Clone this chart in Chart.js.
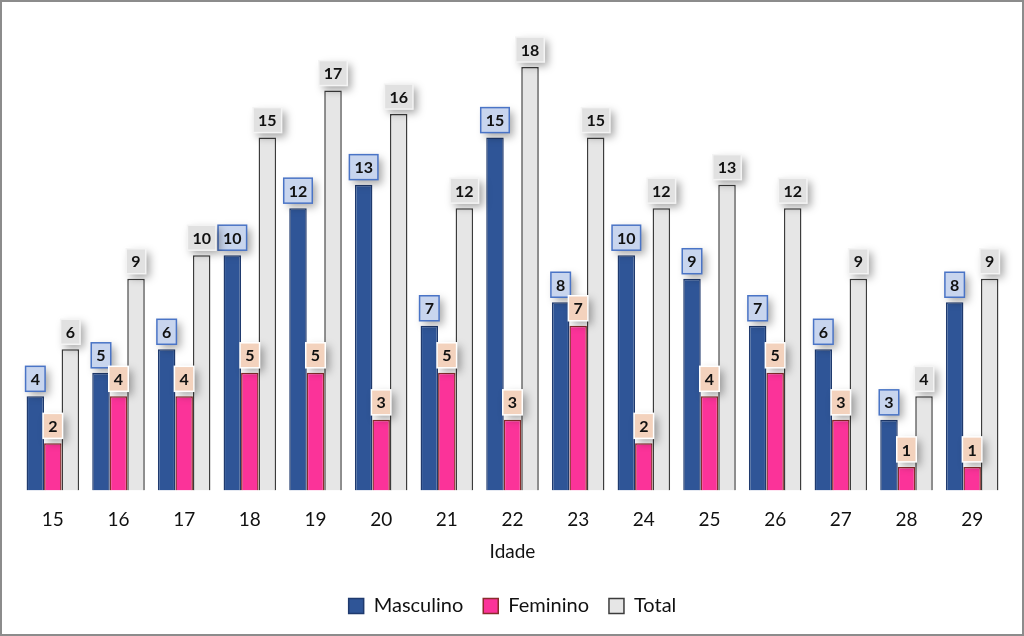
<!DOCTYPE html>
<html>
<head>
<meta charset="utf-8">
<script src="https://cdn.jsdelivr.net/npm/chart.js@4.4.1/dist/chart.umd.min.js"></script>
<style>
  html, body { margin: 0; padding: 0; background: #fff; }
  #wrap { width: 1024px; height: 636px; box-sizing: border-box; border: 2px solid #8c8c8c; position: relative; }
  canvas { display: block; }
</style>
</head>
<body>
<div id="wrap"><canvas id="chart" width="1020" height="632"></canvas></div>
<script>
const idades = ['15','16','17','18','19','20','21','22','23','24','25','26','27','28','29'];
const masculino = [4, 5, 6, 10, 12, 13, 7, 15, 8, 10, 9, 7, 6, 3, 8];
const feminino = [2, 4, 4, 5, 5, 3, 5, 3, 7, 2, 4, 5, 3, 1, 1];
const total = [6, 9, 10, 15, 17, 16, 12, 18, 15, 12, 13, 12, 9, 4, 9];

const fonte = 'Lato, "Liberation Sans", sans-serif';

// caixas das etiquetas acima das barras
const estilosEtiqueta = [
  { fill: '#c8d5ee', stroke: '#4a74c6' },
  { fill: '#f3d2bd', stroke: '#ffffff' },
  { fill: '#e1e1e1', stroke: '#f4f4f4' }
];

const etiquetas = {
  id: 'etiquetas',
  afterDatasetsDraw(chart) {
    const ctx = chart.ctx;
    chart.data.datasets.forEach((ds, i) => {
      const meta = chart.getDatasetMeta(i);
      if (meta.hidden) return;
      const st = estilosEtiqueta[i];
      meta.data.forEach((bar, j) => {
        const txt = String(ds.data[j]);
        ctx.save();
        ctx.font = 'bold 16px ' + fonte;
        const w = Math.max(bar.width + 2, ctx.measureText(txt).width + 10);
        const h = 25;
        const x = bar.x - w / 2;
        const y = bar.y - 5 - h;
        ctx.shadowColor = 'rgba(0,0,0,0.35)';
        ctx.shadowBlur = 8;
        ctx.shadowOffsetX = 4;
        ctx.shadowOffsetY = 4;
        ctx.fillStyle = st.fill;
        ctx.fillRect(x, y, w, h);
        ctx.shadowColor = 'transparent';
        ctx.lineWidth = 1.5;
        ctx.strokeStyle = st.stroke;
        ctx.strokeRect(x, y, w, h);
        ctx.fillStyle = '#111';
        ctx.textAlign = 'center';
        ctx.textBaseline = 'middle';
        ctx.fillText(txt, bar.x, y + h / 2 + 1);
        ctx.restore();
      });
    });
  }
};

new Chart(document.getElementById('chart'), {
  type: 'bar',
  data: {
    labels: idades,
    datasets: [
      { label: 'Masculino', data: masculino, backgroundColor: '#2f5597', borderColor: '#1f3a6e', borderWidth: 1.5 },
      { label: 'Feminino', data: feminino, backgroundColor: '#fb3399', borderColor: '#8a2c2c', borderWidth: 1.5 },
      { label: 'Total', data: total, backgroundColor: '#e6e6e6', borderColor: '#3c3c3c', borderWidth: 1.5 }
    ]
  },
  options: {
    responsive: false,
    animation: false,
    layout: { padding: { left: 18, right: 17, top: 18, bottom: 8 } },
    datasets: { bar: { categoryPercentage: 0.8, barPercentage: 1.0 } },
    scales: {
      y: { display: false, min: 0, max: 20 },
      x: {
        grid: { display: false },
        border: { display: false },
        ticks: { color: '#111', font: { family: fonte, size: 19 }, padding: 10 },
        title: { display: true, text: 'Idade', color: '#111', font: { family: fonte, size: 19 }, padding: { top: -1, bottom: 13 } }
      }
    },
    plugins: {
      legend: {
        position: 'bottom',
        labels: {
          color: '#111',
          font: { family: fonte, size: 20 },
          boxWidth: 15,
          boxHeight: 15,
          padding: 20
        }
      },
      tooltip: { enabled: false }
    }
  },
  plugins: [etiquetas]
});
</script>
</body>
</html>
